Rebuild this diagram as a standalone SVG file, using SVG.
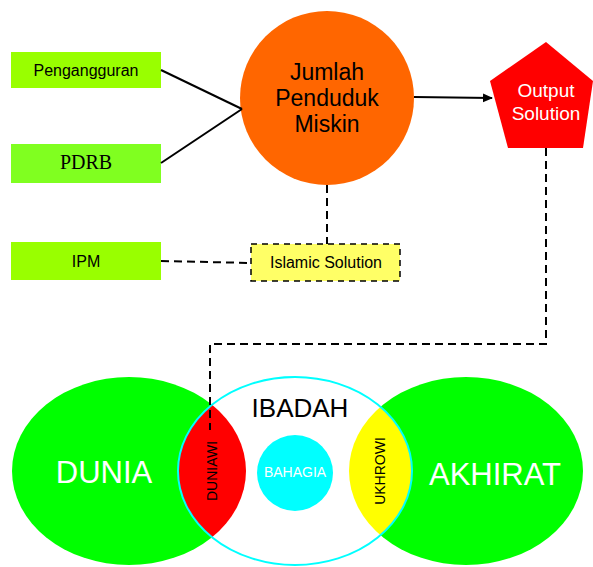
<svg xmlns="http://www.w3.org/2000/svg" width="593" height="567" viewBox="0 0 593 567">
<style>
.t{font-family:"Liberation Sans",Arial,sans-serif;text-anchor:middle}
.ln{stroke:#000;stroke-width:2;fill:none}
.dash{stroke:#000;stroke-width:2;fill:none;stroke-dasharray:8 5}
</style>
<defs>
<marker id="arr" markerWidth="10" markerHeight="10" refX="9" refY="5" orient="auto" markerUnits="userSpaceOnUse">
<path d="M0,0.5 L10,5 L0,9.5 Z" fill="#000"/>
</marker>
<clipPath id="ib"><ellipse cx="295" cy="471" rx="117" ry="94"/></clipPath>
</defs>
<rect width="593" height="567" fill="#fff"/>
<g id="pengangguran">
<rect x="11" y="52" width="150" height="36" fill="#99ff00"/>
<text class="t" x="86" y="76" font-size="16">Pengangguran</text>
</g>
<g id="pdrb">
<rect x="11" y="144" width="150" height="39" fill="#80ff20"/>
<text x="86" y="169" font-size="20" text-anchor="middle" font-family="'Liberation Serif','Times New Roman',serif">PDRB</text>
</g>
<g id="ipm">
<rect x="11" y="242" width="150" height="38" fill="#99ff00"/>
<text class="t" x="86" y="267" font-size="16">IPM</text>
</g>
<g id="jumlah">
<circle cx="327" cy="98" r="87" fill="#ff6600"/>
<text class="t" x="327" y="80" font-size="23">Jumlah</text>
<text class="t" x="327" y="106" font-size="23">Penduduk</text>
<text class="t" x="327" y="132" font-size="23">Miskin</text>
</g>
<g id="output">
<polygon points="546,42 593,81 583,148 508,148 490,81" fill="#ff0000"/>
<text class="t" x="546" y="97" font-size="19" fill="#fff">Output</text>
<text class="t" x="546" y="120" font-size="19" fill="#fff">Solution</text>
</g>
<g id="islamic">
<rect x="251" y="244" width="149" height="37" fill="#ffff66" stroke="#000" stroke-width="1.5" stroke-dasharray="6 5"/>
<text class="t" x="326" y="268" font-size="16">Islamic Solution</text>
</g>
<g id="dunia">
<ellipse cx="129" cy="471" rx="117" ry="94" fill="#00ff00"/>
<text class="t" x="104" y="483" font-size="31" fill="#fff">DUNIA</text>
</g>
<g id="akhirat">
<ellipse cx="466" cy="471" rx="117" ry="94" fill="#00ff00"/>
<text class="t" x="495" y="485" font-size="31" fill="#fff">AKHIRAT</text>
</g>
<g id="ibadah">
<ellipse cx="295" cy="471" rx="117" ry="94" fill="#fff"/>
<ellipse cx="129" cy="471" rx="117" ry="94" fill="#ff0000" clip-path="url(#ib)"/>
<ellipse cx="466" cy="471" rx="117" ry="94" fill="#ffff00" clip-path="url(#ib)"/>
<ellipse cx="295" cy="471" rx="117" ry="94" fill="none" stroke="#00ffff" stroke-width="2"/>
<text class="t" x="300" y="417" font-size="26">IBADAH</text>
</g>
<g id="bahagia">
<circle cx="295" cy="473" r="38" fill="#00ffff"/>
<text class="t" x="295" y="477" font-size="14" fill="#fff">BAHAGIA</text>
</g>
<g id="duniawi">
<text class="t" transform="translate(217,471) rotate(-90)" font-size="14">DUNIAWI</text>
</g>
<g id="ukhrowi">
<text class="t" transform="translate(385,471) rotate(-90)" font-size="14">UKHROWI</text>
</g>
<g id="connectors">
<line class="ln" x1="161" y1="70" x2="242" y2="109"/>
<line class="ln" x1="161" y1="163" x2="242" y2="109"/>
<line class="ln" x1="414" y1="97" x2="492" y2="98" marker-end="url(#arr)"/>
<line class="dash" x1="327" y1="185" x2="327" y2="244"/>
<line class="dash" x1="161" y1="261" x2="251" y2="263"/>
<polyline class="dash" points="546,148 546,344 210,344 210,430"/>
</g>
</svg>
